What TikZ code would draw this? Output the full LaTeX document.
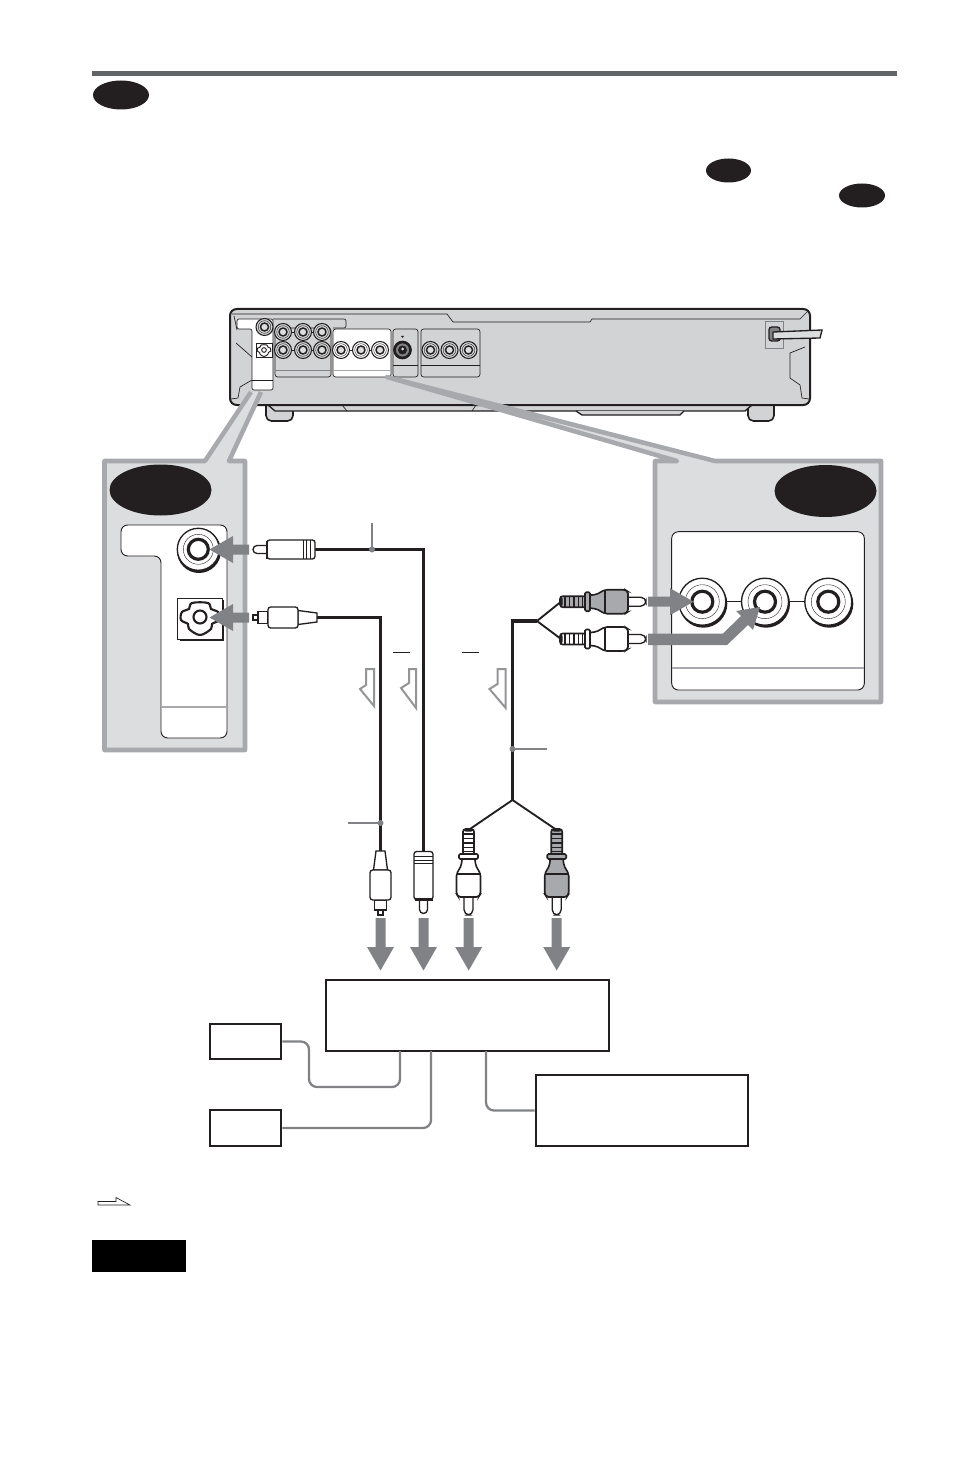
\documentclass[tikz,border=0pt]{standalone}
\definecolor{inkblack}{HTML}{231F20}
\definecolor{rulegray}{HTML}{636466}
\definecolor{panelfill}{HTML}{DCDDDE}
\definecolor{panelline}{HTML}{A7A9AC}
\definecolor{bodyfill}{HTML}{D1D3D4}
\definecolor{pointergray}{HTML}{808285}
\tikzset{
  thinline/.style={draw=inkblack,line width=.5pt},
  bodyline/.style={draw=inkblack,line width=1.2pt},
  plugline/.style={draw=inkblack,line width=1pt},
  panel/.style={draw=panelline,line width=3.4pt,line join=round},
  cable/.style={draw=inkblack,line width=2.4pt},
  branch/.style={draw=inkblack,line width=1.4pt},
  leader/.style={draw=pointergray,line width=1pt},
  wire/.style={draw=pointergray,line width=1.7pt,rounded corners=6},
  hollow/.style={draw=pointergray!85,line width=1.5pt,fill=white},
  blackbox/.style={draw=inkblack,line width=2.2pt,fill=white,inner sep=0pt},
  pics/pointer/.style={code={
    \fill[pointergray] (0,-5) -- (#1,-5) -- (#1,-13.5) -- (#1+23.5,0) -- (#1,13.5) -- (#1,5) -- (0,5) -- cycle;
  }},
  pics/rcaplug/.style={code={
    \draw[plugline,fill=white,rounded corners=4] (62,-4.5) rectangle (86,4.5);
    \draw[plugline,fill=#1,line width=1.2pt,rounded corners=2] (0,-5.5) rectangle (26,5.5);
    \foreach \g in {5,9.5,14,18.5,22.5}
      \draw[inkblack,line width=.9pt] (\g,-5.5) -- (\g,5.5);
    \fill[inkblack,rounded corners=2] (0,-5.5) rectangle (2.5,5.5);
    \draw[plugline,fill=#1,line width=1.2pt,rounded corners=1.5] (29,-6.5) -- (36,-7) -- (45,-12) -- (65,-12) -- (68,-10) -- (68,10) -- (65,12) -- (45,12) -- (36,7) -- (29,6.5) -- cycle;
    \draw[plugline] (45,-12) -- (45,12);
    \draw[plugline,fill=#1,line width=1.2pt,rounded corners=1] (25,-9.5) rectangle (30,9.5);
  }},
  pics/optplug/.style={code={
    \draw[plugline,fill=white,line width=.8pt] (59,-2.5) rectangle (64,2.5);
    \draw[plugline,fill=white] (49,-6) rectangle (59,6);
    \draw[plugline,fill=white] (0,-4.5) -- (19,-7) -- (19,7) -- (0,4.5) -- cycle;
    \draw[plugline,fill=white,rounded corners=2] (19,-10.5) rectangle (49,10.5);
  }},
  pics/coaxplug/.style={code={
    \draw[plugline,fill=white,rounded corners=3] (44,-4) rectangle (62,4);
    \draw[plugline,fill=white,rounded corners=2] (0,-9.5) rectangle (48,9.5);
    \foreach \g in {5,8.5,12}
      \draw[inkblack,line width=.6pt] (\g,-9.5) -- (\g,9.5);
    \draw[inkblack,line width=1.6pt] (48,-9) -- (48,9);
  }},
  pics/bigjack/.style={code={
    \fill[inkblack] (1,2) circle (24);
    \draw[plugline,fill=white] (0,0) circle (23.5);
    \draw[thinline,line width=.3pt] (0,0) circle (17);
    \draw[inkblack,line width=2.4pt,fill=white] (0,0) circle (10.5);
  }},
  pics/smalljack/.style={code={
    \draw[inkblack,line width=.8pt,fill=#1] (0,0) circle (8.5);
    \draw[inkblack,line width=.3pt] (0,0) circle (6.3);
    \draw[inkblack,line width=1.1pt,fill=panelfill] (0,0) circle (4);
  }},
  pics/optblob/.style={code={
    \draw[inkblack,line width=#1,fill=white] plot[smooth cycle,tension=.6] coordinates {(-8,-14) (8,-14) (11,-8) (18,-5) (19,3) (12,7) (11,12) (0,18) (-11,12) (-12,7) (-19,3) (-18,-5) (-11,-8)};
    \draw[inkblack,line width=#1,fill=white] (0,0) circle (6.5);
  }}
}
\begin{document}
\begin{tikzpicture}[x=.75pt,y=-.75pt]
\useasboundingbox (0,0) rectangle (954,1483);
\fill[rulegray] (92,71) rectangle (897,76);
\fill[inkblack] (121,95) ellipse (28 and 14.5);
\fill[inkblack] (728.5,170.5) ellipse (22.5 and 12);
\fill[inkblack] (862,195.5) ellipse (23 and 12);
\draw[bodyline,fill=bodyfill,rounded corners=4] (266,400) -- (266,421) -- (293,421) -- (293,400);
\draw[bodyline,fill=bodyfill,rounded corners=4] (748,400) -- (748,421) -- (774,421) -- (774,400);
\draw[plugline,fill=bodyfill] (268,405) -- (275,411) -- (745,411) -- (752,405);
\draw[plugline,fill=bodyfill] (576,411) -- (582,415) -- (680,415) -- (684,411);
\draw[thinline] (342,405) -- (347,411);
\draw[thinline] (476,405) -- (472,411);
\draw[bodyline,line width=1.5pt,fill=bodyfill,rounded corners=5] (230,309) rectangle (810,405);
\draw[thinline] (232,314) -- (447,314) -- (453,322) -- (590,322) -- (592,319) -- (800,319) -- (807,312);
\draw[thinline] (234,316) -- (237,330);
\draw[thinline] (236,343) -- (252,357);
\draw[thinline] (252,380) -- (240,387) -- (238,398) -- (231,399);
\draw[thinline] (805,347) -- (790,353) -- (790,378) -- (800,385) -- (802,398) -- (809,399);
\draw[thinline,fill=white,rounded corners=1.5] (237,319) -- (273,319) -- (273,390) -- (252,390) -- (252,329) -- (237,329) -- cycle;
\draw[thinline,rounded corners=1.5] (273,319) -- (346,319) -- (346,328) -- (333,328);
\draw[thinline] (252,380) -- (273,380);
\draw[thinline,rounded corners=2] (275,328) rectangle (331,377);
\draw[thinline,draw=pointergray] (275,370) -- (331,370);
\draw[thinline,fill=white,rounded corners=2] (333,329) rectangle (391,377);
\draw[draw=panelline,line width=.7pt] (333,370) -- (391,370);
\draw[thinline,rounded corners=2] (393,329) rectangle (418,377);
\draw[thinline] (393,365) -- (418,365);
\draw[thinline,rounded corners=2] (421,329) rectangle (480,377);
\draw[thinline] (421,365) -- (480,365);
\draw[thinline] (283,350) -- (322,350);
\draw[thinline] (283,332) -- (322,332);
\draw[thinline] (341,350) -- (380,350);
\foreach \x in {283,303,322}
  \foreach \y in {332,350}
    \pic at (\x,\y) {smalljack=bodyfill};
\foreach \x in {341,361,380}
  \pic at (\x,350) {smalljack=white};
\foreach \x in {430.5,449.5,468.5}
  \pic at (\x,350) {smalljack=bodyfill};
\pic at (264.5,327) {smalljack=bodyfill};
\draw[thinline,fill=white] (256,343) rectangle (272,357);
\pic[scale=.36] at (264,350) {optblob=.7pt};
\draw[inkblack,line width=2pt,fill=pointergray] (402.5,350) circle (8);
\fill[inkblack] (402.5,350) circle (4.5);
\fill[panelfill] (402.5,349) circle (1.5);
\fill[inkblack] (401,336) -- (404,336) -- (402.5,338) -- cycle;
\draw[thinline,draw=pointergray] (765,321) rectangle (783,348);
\draw[plugline,fill=pointergray,rounded corners=2] (769,327) rectangle (780,341);
\draw[plugline,fill=panelfill] (773,332) -- (822,330) -- (820,338) -- (773,339) -- cycle;
\fill[panelfill] (104.5,461) -- (205,461) -- (251,392) -- (261,392) -- (229,461) -- (245,461) -- (245,750) -- (104.5,750) -- cycle;
\draw[panel] (251,392) -- (205,461) -- (104.5,461) -- (104.5,750) -- (245,750) -- (245,461) -- (229,461) -- (261,392);
\fill[inkblack] (160.5,490) ellipse (51 and 25.5);
\draw[thinline,line width=.7pt,fill=white,rounded corners=5] (121,525) -- (227,525) -- (227,738) -- (161,738) -- (161,556) -- (121,556) -- cycle;
\draw[draw=panelline,line width=.8pt] (161,707) -- (227,707);
\fill[inkblack] (199,551) circle (22);
\draw[plugline,fill=white] (198.3,549.3) circle (21);
\draw[thinline,line width=.3pt] (198.3,549.3) circle (15);
\draw[inkblack,line width=2.4pt,fill=white] (198.3,549.3) circle (10);
\fill[inkblack] (180,600) rectangle (224,641);
\draw[thinline,fill=white] (177.7,598) rectangle (222.7,639);
\pic at (200,617) {optblob=1.6pt};
\fill[panelfill] (655,461) -- (677,461) -- (387,377) -- (715,461) -- (881,461) -- (881,702) -- (655,702) -- cycle;
\draw[panel] (387,377) -- (677,461) -- (655,461) -- (655,702) -- (881,702) -- (881,461) -- (715,461) -- cycle;
\fill[inkblack] (825.5,491) ellipse (51 and 26);
\draw[thinline,line width=.7pt,fill=white,rounded corners=5] (671.7,531.7) rectangle (864.3,690);
\draw[draw=panelline,line width=.8pt] (671.7,668) -- (864.3,668);
\draw[thinline] (702.3,601.7) -- (828.3,601.7);
\foreach \x in {702.3,765,828.3}
  \pic at (\x,601.7) {bigjack};
\coordinate (coaxleft) at (315,549.5);
\coordinate (coaxbottom) at (423.5,851.5);
\coordinate (optleft) at (317,617.5);
\coordinate (optbottom) at (380.5,851);
\coordinate (rcacorner) at (512.5,621);
\coordinate (rcafork) at (537,621);
\coordinate (rcaupper) at (561,601.7);
\coordinate (rcalower) at (561,639);
\coordinate (rcasplit) at (512.5,800);
\coordinate (rcawhite) at (468.5,830);
\coordinate (rcagray) at (556.7,830);
\draw[cable] (coaxleft) -| (coaxbottom);
\draw[cable] (optleft) -| (optbottom);
\draw[cable] (rcafork) -- (rcacorner) -- (rcasplit);
\draw[branch] (rcaupper) -- (rcafork) -- (rcalower);
\draw[branch] (rcawhite) -- (rcasplit) -- (rcagray);
\pic[rotate=180] at (coaxleft) {coaxplug};
\pic[rotate=180] at (optleft) {optplug};
\pic[rotate=-90] at (coaxbottom) {coaxplug};
\pic[rotate=-90] at (optbottom) {optplug};
\pic at (560,601.7) {rcaplug=panelline};
\pic at (560,639) {rcaplug=white};
\pic[rotate=-90] at (468.5,829) {rcaplug=white};
\pic[rotate=-90] at (556.7,829) {rcaplug=panelline};
\draw[leader] (372,523) -- (372,549.5);
\fill[pointergray] (372,549.5) circle (3);
\draw[leader] (348,823) -- (380.5,823);
\fill[pointergray] (380.5,823) circle (3);
\draw[leader] (512.5,749) -- (547,749);
\fill[pointergray] (512.5,749) circle (3);
\draw[inkblack,line width=.6pt] (393,652.5) -- (410,652.5);
\draw[inkblack,line width=.6pt] (462,652.5) -- (479,652.5);
\draw[hollow] (366,669) -- (374,669) -- (374,706) -- (360,689) -- (366,685) -- cycle;
\draw[hollow] (409,669) -- (416,669) -- (416,708) -- (401,688) -- (409,683) -- cycle;
\draw[hollow] (497.5,669) -- (505.7,669) -- (505.7,708) -- (489.5,689) -- (497.5,684) -- cycle;
\pic[rotate=180] at (249,549.5) {pointer=16};
\pic[rotate=180] at (249,617.5) {pointer=16};
\pic at (648,601.7) {pointer=22};
\fill[pointergray] (648,633.5) -- (723,633.5) -- (741,616) -- (736,611) -- (760,607) -- (753,630) -- (748,625) -- (727,645) -- (648,645) -- cycle;
\foreach \x in {380.5,423.5,468.7,556.7}
  \pic[rotate=-90] at (\x,918) {pointer=29};
\node[blackbox,minimum width=212.25pt,minimum height=53.25pt] (mainbox) at (467.5,1015.5) {};
\node[blackbox,minimum width=53.25pt,minimum height=26.25pt] (upperbox) at (245.5,1041.5) {};
\node[blackbox,minimum width=53.25pt,minimum height=27pt] (lowerbox) at (245.5,1128) {};
\node[blackbox,minimum width=159pt,minimum height=53.25pt] (sidebox) at (642,1110.5) {};
\coordinate (tapa) at (400,1051);
\coordinate (tapb) at (431,1051);
\coordinate (tapc) at (486,1051);
\draw[wire] (upperbox.east) -- (309,1041.5) -- (309,1087) -- (400,1087) -- (tapa);
\draw[wire] (lowerbox.east) -- (431,1128) -- (tapb);
\draw[wire] (tapc) -- (486,1110.5) -- (sidebox.west);
\draw[inkblack,line width=.5pt,fill=white] (98,1201.5) -- (116,1201.5) -- (116,1197.5) -- (130,1205) -- (98,1205) -- cycle;
\fill[black] (92,1240) rectangle (186,1272);
\end{tikzpicture}
\end{document}
